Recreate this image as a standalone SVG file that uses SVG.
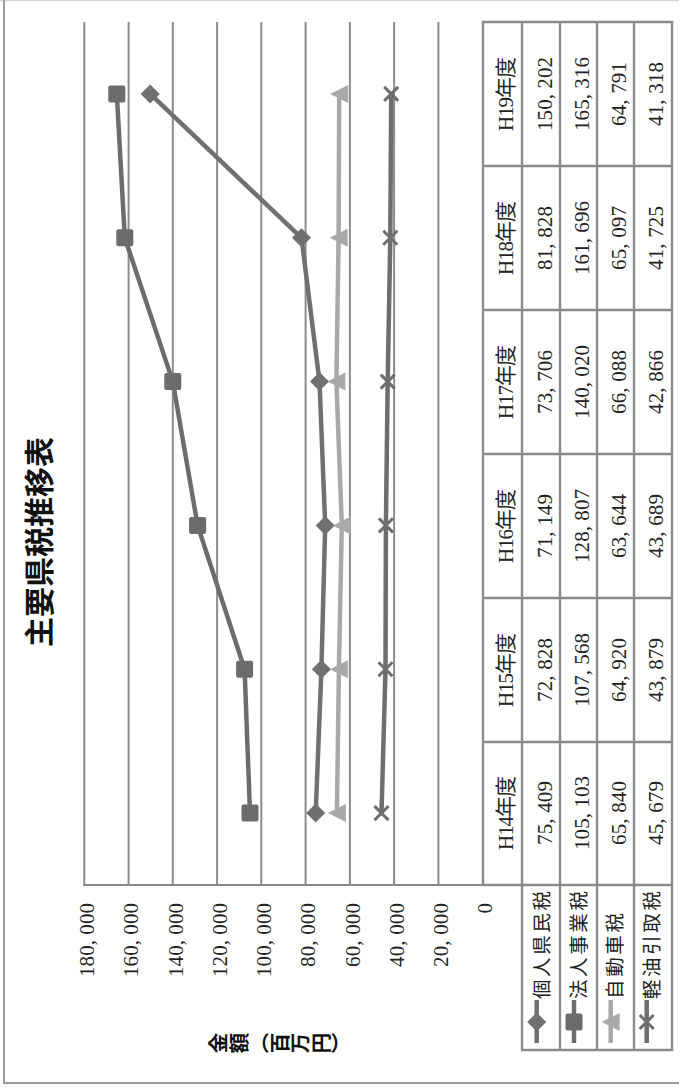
<svg xmlns="http://www.w3.org/2000/svg" width="679" height="1088" viewBox="0 0 679 1088">
<style>
.frame{fill:none;stroke:#9c9c9c;stroke-width:2}
.grid{stroke:#8c8c8c;stroke-width:2;fill:none}
.tbl{stroke:#8c8c8c;stroke-width:2.4;fill:none}
.tick{font-family:"Liberation Serif","Noto Sans CJK JP",serif;font-size:21px;fill:#222}
.cell{font-family:"Liberation Serif","Noto Sans CJK JP",serif;font-size:21px;fill:#222;text-anchor:middle}
.leg{font-family:"Noto Sans CJK JP",sans-serif;font-size:19.5px;fill:#222}
.title{font-family:"Noto Sans CJK JP",sans-serif;font-size:30px;font-weight:bold;fill:#111;text-anchor:middle}
.axlab{font-family:"Noto Sans CJK JP",sans-serif;font-size:20.5px;font-weight:bold;fill:#111;writing-mode:vertical-rl}
.s1{stroke:#707070;stroke-width:4.5;fill:none;stroke-linejoin:round}
.s2{stroke:#6c6c6c;stroke-width:4.5;fill:none;stroke-linejoin:round}
.s3{stroke:#a9a9a9;stroke-width:4.5;fill:none;stroke-linejoin:round}
.s4{stroke:#6e6e6e;stroke-width:4.5;fill:none;stroke-linejoin:round}
.m1{fill:#707070}
.m2{fill:#6c6c6c}
.m3{fill:#a9a9a9}
.m4{stroke:#6e6e6e;stroke-width:3;fill:none}
</style>
<defs>
<path id="dia" d="M-9.5,0 L0,-9.5 L9.5,0 L0,9.5 Z"/>
<rect id="sq" x="-8.5" y="-8.5" width="17" height="17" rx="2"/>
<path id="tri" d="M-9,0 L9,-9 L9,9 Z"/>
<path id="xx" d="M-7,-7 L7,7 M-7,7 L7,-7"/>
</defs>
<g id="frame">
<line x1="0" y1="0.5" x2="679" y2="0.5" stroke="#d6d6d6" stroke-width="1.5"/>
<path class="frame" d="M4,0 V1083 H679"/>
</g>
<g id="title"><text class="title" transform="translate(50,542) rotate(-90)">主要県税推移表</text></g>
<g id="axis-label"><text class="axlab" transform="translate(208,1043) rotate(-90)" x="0" y="0">金額（百万円）</text></g>
<g id="gridlines">
<line class="grid" x1="84.3" y1="22" x2="84.3" y2="885"/>
<line class="grid" x1="128.6" y1="22" x2="128.6" y2="885"/>
<line class="grid" x1="172.8" y1="22" x2="172.8" y2="885"/>
<line class="grid" x1="217.1" y1="22" x2="217.1" y2="885"/>
<line class="grid" x1="261.3" y1="22" x2="261.3" y2="885"/>
<line class="grid" x1="305.6" y1="22" x2="305.6" y2="885"/>
<line class="grid" x1="349.9" y1="22" x2="349.9" y2="885"/>
<line class="grid" x1="394.1" y1="22" x2="394.1" y2="885"/>
<line class="grid" x1="438.4" y1="22" x2="438.4" y2="885"/>
<line class="grid" x1="83.3" y1="885" x2="483" y2="885"/>
</g>
<g id="tick-labels">
<text class="tick" text-anchor="end" textLength="74" transform="translate(94,903) rotate(-90)">180, 000</text>
<text class="tick" text-anchor="end" textLength="74" transform="translate(138.3,903) rotate(-90)">160, 000</text>
<text class="tick" text-anchor="end" textLength="74" transform="translate(182.5,903) rotate(-90)">140, 000</text>
<text class="tick" text-anchor="end" textLength="74" transform="translate(226.8,903) rotate(-90)">120, 000</text>
<text class="tick" text-anchor="end" textLength="74" transform="translate(271,903) rotate(-90)">100, 000</text>
<text class="tick" text-anchor="end" textLength="64" transform="translate(315.3,903) rotate(-90)">80, 000</text>
<text class="tick" text-anchor="end" textLength="64" transform="translate(359.6,903) rotate(-90)">60, 000</text>
<text class="tick" text-anchor="end" textLength="64" transform="translate(403.8,903) rotate(-90)">40, 000</text>
<text class="tick" text-anchor="end" textLength="64" transform="translate(448.1,903) rotate(-90)">20, 000</text>
<text class="tick" text-anchor="end" transform="translate(492.3,903) rotate(-90)">0</text>
</g>
<g id="connectors">
<polyline class="s3" points="336.9,813.1 338.9,669.3 341.8,525.4 336.4,381.6 338.6,237.8 339.2,93.9"/>
<polyline class="s4" points="381.5,813.1 385.5,669.3 385.9,525.4 387.7,381.6 390.3,237.8 391.2,93.9"/>
<polyline class="s2" points="250,813.1 244.6,669.3 197.6,525.4 172.8,381.6 124.8,237.8 116.8,93.9"/>
<polyline class="s1" points="315.7,813.1 321.4,669.3 325.2,525.4 319.5,381.6 301.5,237.8 150.2,93.9"/>
</g>
<g id="series-markers">
<g class="m3">
<use href="#tri" x="336.9" y="813.1"/><use href="#tri" x="338.9" y="669.3"/><use href="#tri" x="341.8" y="525.4"/><use href="#tri" x="336.4" y="381.6"/><use href="#tri" x="338.6" y="237.8"/><use href="#tri" x="339.2" y="93.9"/>
</g>
<g class="m4">
<use href="#xx" x="381.5" y="813.1"/><use href="#xx" x="385.5" y="669.3"/><use href="#xx" x="385.9" y="525.4"/><use href="#xx" x="387.7" y="381.6"/><use href="#xx" x="390.3" y="237.8"/><use href="#xx" x="391.2" y="93.9"/>
</g>
<g class="m2">
<use href="#sq" x="250" y="813.1"/><use href="#sq" x="244.6" y="669.3"/><use href="#sq" x="197.6" y="525.4"/><use href="#sq" x="172.8" y="381.6"/><use href="#sq" x="124.8" y="237.8"/><use href="#sq" x="116.8" y="93.9"/>
</g>
<g class="m1">
<use href="#dia" x="315.7" y="813.1"/><use href="#dia" x="321.4" y="669.3"/><use href="#dia" x="325.2" y="525.4"/><use href="#dia" x="319.5" y="381.6"/><use href="#dia" x="301.5" y="237.8"/><use href="#dia" x="150.2" y="93.9"/>
</g>
</g>
<g id="data-table">
<path class="tbl" d="M483,885 V22 H672 V1050 H522 V22 M560,22 V1050 M597,22 V1050 M634,22 V1050 M483,166 H672 M483,310 H672 M483,454 H672 M483,598 H672 M483,742 H672 M483,885 H672"/>
<g id="col-h19">
<text class="cell" textLength="74" transform="translate(513,94) rotate(-90)">H19年度</text>
<text class="cell" textLength="74" transform="translate(551.5,94) rotate(-90)">150, 202</text>
<text class="cell" textLength="74" transform="translate(589,94) rotate(-90)">165, 316</text>
<text class="cell" textLength="64" transform="translate(626,94) rotate(-90)">64, 791</text>
<text class="cell" textLength="64" transform="translate(663,94) rotate(-90)">41, 318</text>
</g>
<g id="col-h18">
<text class="cell" textLength="74" transform="translate(513,238) rotate(-90)">H18年度</text>
<text class="cell" textLength="64" transform="translate(551.5,238) rotate(-90)">81, 828</text>
<text class="cell" textLength="74" transform="translate(589,238) rotate(-90)">161, 696</text>
<text class="cell" textLength="64" transform="translate(626,238) rotate(-90)">65, 097</text>
<text class="cell" textLength="64" transform="translate(663,238) rotate(-90)">41, 725</text>
</g>
<g id="col-h17">
<text class="cell" textLength="74" transform="translate(513,382) rotate(-90)">H17年度</text>
<text class="cell" textLength="64" transform="translate(551.5,382) rotate(-90)">73, 706</text>
<text class="cell" textLength="74" transform="translate(589,382) rotate(-90)">140, 020</text>
<text class="cell" textLength="64" transform="translate(626,382) rotate(-90)">66, 088</text>
<text class="cell" textLength="64" transform="translate(663,382) rotate(-90)">42, 866</text>
</g>
<g id="col-h16">
<text class="cell" textLength="74" transform="translate(513,526) rotate(-90)">H16年度</text>
<text class="cell" textLength="64" transform="translate(551.5,526) rotate(-90)">71, 149</text>
<text class="cell" textLength="74" transform="translate(589,526) rotate(-90)">128, 807</text>
<text class="cell" textLength="64" transform="translate(626,526) rotate(-90)">63, 644</text>
<text class="cell" textLength="64" transform="translate(663,526) rotate(-90)">43, 689</text>
</g>
<g id="col-h15">
<text class="cell" textLength="74" transform="translate(513,670) rotate(-90)">H15年度</text>
<text class="cell" textLength="64" transform="translate(551.5,670) rotate(-90)">72, 828</text>
<text class="cell" textLength="74" transform="translate(589,670) rotate(-90)">107, 568</text>
<text class="cell" textLength="64" transform="translate(626,670) rotate(-90)">64, 920</text>
<text class="cell" textLength="64" transform="translate(663,670) rotate(-90)">43, 879</text>
</g>
<g id="col-h14">
<text class="cell" textLength="74" transform="translate(513,813) rotate(-90)">H14年度</text>
<text class="cell" textLength="64" transform="translate(551.5,813) rotate(-90)">75, 409</text>
<text class="cell" textLength="74" transform="translate(589,813) rotate(-90)">105, 103</text>
<text class="cell" textLength="64" transform="translate(626,813) rotate(-90)">65, 840</text>
<text class="cell" textLength="64" transform="translate(663,813) rotate(-90)">45, 679</text>
</g>
</g>
<g id="legend">
<g id="leg-1">
<line class="s1" x1="536.7" y1="1000" x2="536.7" y2="1043"/>
<use href="#dia" class="m1" x="536.7" y="1022"/>
<text class="leg" textLength="108" transform="translate(548.6,999) rotate(-90)">個人県民税</text>
</g>
<g id="leg-2">
<line class="s2" x1="574" y1="1000" x2="574" y2="1043"/>
<use href="#sq" class="m2" x="574" y="1022"/>
<text class="leg" textLength="108" transform="translate(585.5,999) rotate(-90)">法人事業税</text>
</g>
<g id="leg-3">
<line class="s3" x1="610.7" y1="1000" x2="610.7" y2="1043"/>
<use href="#tri" class="m3" x="610.7" y="1022"/>
<text class="leg" textLength="86" transform="translate(622,999) rotate(-90)">自動車税</text>
</g>
<g id="leg-4">
<line class="s4" x1="646.7" y1="1000" x2="646.7" y2="1043"/>
<use href="#xx" class="m4" x="646.7" y="1022"/>
<text class="leg" textLength="108" transform="translate(659,999) rotate(-90)">軽油引取税</text>
</g>
</g>
</svg>
